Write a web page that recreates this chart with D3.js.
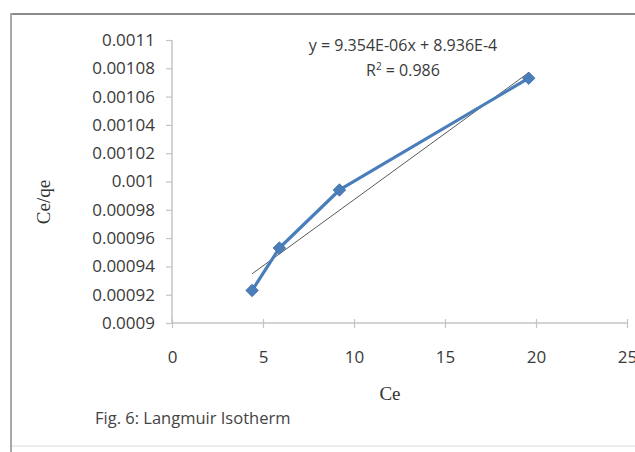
<!DOCTYPE html>
<html>
<head>
<meta charset="utf-8">
<script src="https://cdn.jsdelivr.net/npm/d3@7/dist/d3.min.js"></script>
<style>
  html, body { margin: 0; padding: 0; background: #fff; }
  svg { display: block; }
</style>
</head>
<body>
<svg id="chart" width="635" height="452"></svg>
<script>
// Langmuir isotherm: Ce vs Ce/qe
const ce = [4.4, 5.9, 9.2, 19.6];
const ceQe = [0.000923, 0.000953, 0.000994, 0.001073];
const xTicks = [0, 5, 10, 15, 20, 25];
const yTicks = [0.0009, 0.00092, 0.00094, 0.00096, 0.00098, 0.001, 0.00102, 0.00104, 0.00106, 0.00108, 0.0011];
const yTickLabels = ["0.0009", "0.00092", "0.00094", "0.00096", "0.00098", "0.001", "0.00102", "0.00104", "0.00106", "0.00108", "0.0011"];
const slope = 9.354e-6;
const intercept = 8.936e-4;
const equationText = "y = 9.354E-06x + 8.936E-4";
const r2Text = "0.986";
const caption = "Fig. 6: Langmuir Isotherm";

const svg = d3.select("#chart");
const sans = "'Open Sans', 'DejaVu Sans', sans-serif";
const serif = "'Liberation Serif', 'DejaVu Serif', serif";

// outer frame
svg.append("rect").attr("x", 0).attr("y", 0).attr("width", 635).attr("height", 452).attr("fill", "#fff");
svg.append("line").attr("x1", 11).attr("x2", 635).attr("y1", 14).attr("y2", 14)
  .attr("stroke", "#8a8a8a").attr("stroke-width", 2);
svg.append("line").attr("x1", 11).attr("x2", 11).attr("y1", 13).attr("y2", 452)
  .attr("stroke", "#a8a8a8").attr("stroke-width", 2);
svg.append("line").attr("x1", 12).attr("x2", 635).attr("y1", 446).attr("y2", 446)
  .attr("stroke", "#e6e6e6").attr("stroke-width", 1.5);

const x = d3.scaleLinear().domain([0, 25]).range([172, 627]);
const y = d3.scaleLinear().domain([0.0009, 0.0011]).range([323, 40]);
const axisColor = "#c4c4c4";

// y axis
const yAxis = svg.append("g").attr("transform", `translate(${x(0)},0)`)
  .call(d3.axisLeft(y).tickValues(yTicks).tickSize(6).tickPadding(11)
    .tickFormat((d, i) => yTickLabels[i]));
yAxis.select(".domain").attr("stroke", axisColor).attr("stroke-width", 1.5).attr("d", `M0,${y(0.0011)}V${y(0.0009)}`);
yAxis.selectAll(".tick line").attr("stroke", axisColor).attr("stroke-width", 1.2);
yAxis.selectAll(".tick text").attr("font-family", sans).attr("font-size", 17).attr("fill", "#3a3a3a");

// x axis
const xAxis = svg.append("g").attr("transform", `translate(0,${y(0.0009)})`)
  .call(d3.axisBottom(x).tickValues(xTicks).tickSize(4).tickPadding(24).tickFormat(d3.format("d")));
xAxis.select(".domain").attr("stroke", axisColor).attr("stroke-width", 1.5).attr("d", `M${x(0)},0H${x(25)}`);
xAxis.selectAll(".tick line").attr("stroke", axisColor).attr("stroke-width", 1.2).attr("y1", -4).attr("y2", 5);
xAxis.selectAll(".tick text").attr("font-family", sans).attr("font-size", 17).attr("fill", "#3a3a3a");

// linear trendline over the data range
const xMin = d3.min(ce), xMax = d3.max(ce);
svg.append("line")
  .attr("x1", x(xMin)).attr("y1", y(slope * xMin + intercept))
  .attr("x2", x(xMax)).attr("y2", y(slope * xMax + intercept))
  .attr("stroke", "#5a5a5a").attr("stroke-width", 1);

// data series
const pts = ce.map((c, i) => [c, ceQe[i]]);
svg.append("path").datum(pts)
  .attr("fill", "none").attr("stroke", "#4a7ebb").attr("stroke-width", 3.2)
  .attr("stroke-linejoin", "round")
  .attr("d", d3.line().x(d => x(d[0])).y(d => y(d[1])));
svg.selectAll(".marker").data(pts).enter().append("path")
  .attr("class", "marker")
  .attr("transform", d => `translate(${x(d[0])},${y(d[1])}) rotate(45)`)
  .attr("d", d3.symbol().type(d3.symbolSquare).size(78))
  .attr("fill", "#4a7ebb").attr("stroke", "#3f6fa8").attr("stroke-width", 0.8);

// equation and R²
const eq = svg.append("text").attr("x", 403).attr("y", 51).attr("text-anchor", "middle")
  .attr("font-family", sans).attr("font-size", 16).attr("fill", "#3a3a3a").text(equationText);
const r2 = svg.append("text").attr("x", 403).attr("y", 76).attr("text-anchor", "middle")
  .attr("font-family", sans).attr("font-size", 16).attr("fill", "#3a3a3a");
r2.append("tspan").text("R");
r2.append("tspan").attr("font-size", 10).attr("dy", -6).text("2");
r2.append("tspan").attr("dy", 6).text(" = " + r2Text);

// axis titles
svg.append("text").attr("transform", "translate(50,202) rotate(-90)").attr("text-anchor", "middle")
  .attr("font-family", serif).attr("font-size", 19).attr("fill", "#333").text("Ce/qe");
svg.append("text").attr("x", 390).attr("y", 400).attr("text-anchor", "middle")
  .attr("font-family", serif).attr("font-size", 19).attr("fill", "#333").text("Ce");

// caption
svg.append("text").attr("x", 95).attr("y", 424)
  .attr("font-family", sans).attr("font-size", 16.5).attr("fill", "#444").text(caption);
</script>
</body>
</html>
